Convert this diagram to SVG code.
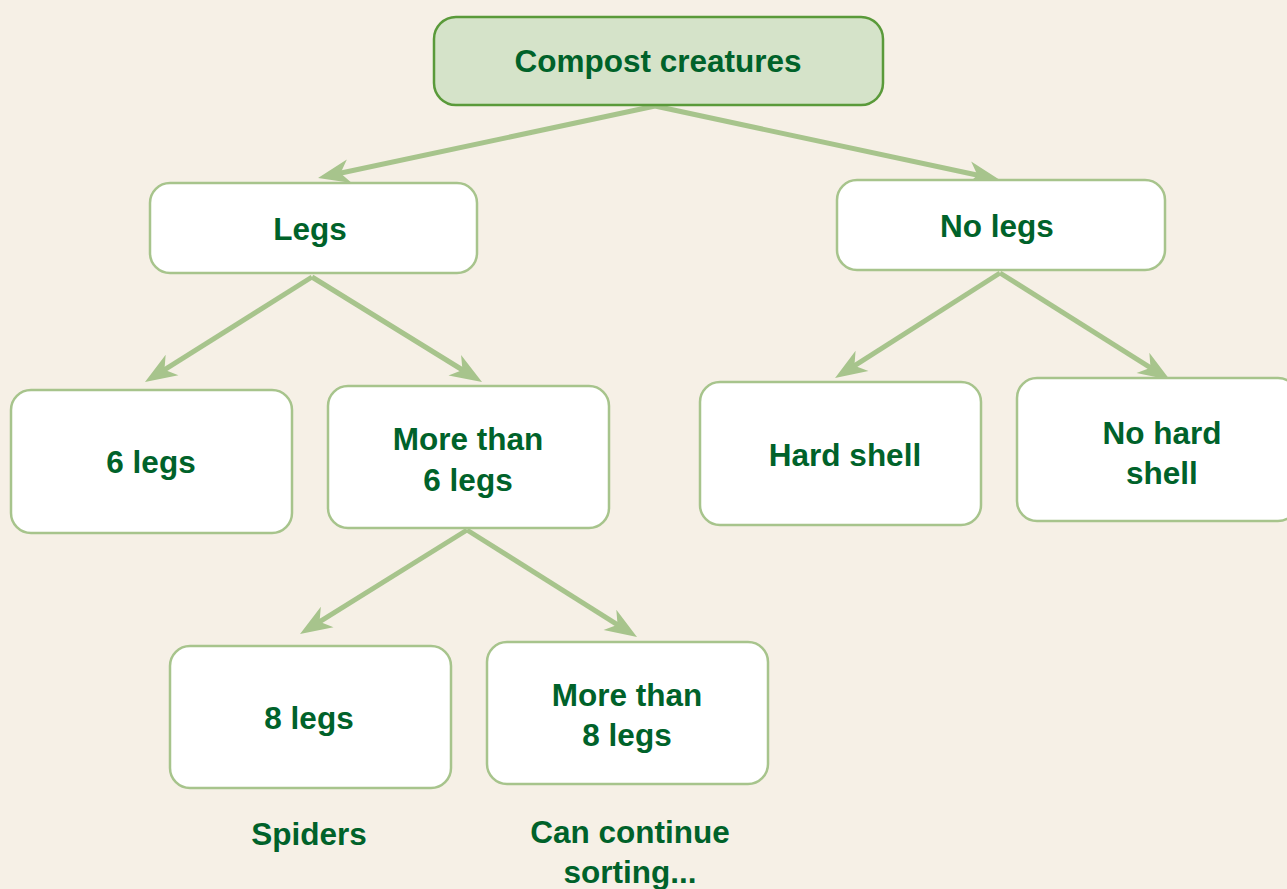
<svg xmlns="http://www.w3.org/2000/svg" width="1287" height="889" viewBox="0 0 1287 889">
  <defs>
    <!-- barbed arrowhead; tip sits 20px beyond the end of each line -->
    <marker id="arrow" markerUnits="userSpaceOnUse" markerWidth="40" markerHeight="30" viewBox="-34 -15 40 30" refX="-20" refY="0" orient="auto">
      <path d="M0,0 L-32,-12 L-23,0 L-32,12 Z" fill="#a7c48c"/>
    </marker>
  </defs>
  <style>
    .box { fill: #ffffff; stroke: #a7c48c; stroke-width: 2.5; }
    .root { fill: #d5e3c9; stroke: #5a9a3a; stroke-width: 2.5; }
    .lbl { font-family: "Liberation Sans", Arial, sans-serif; font-weight: bold; font-size: 31.5px; fill: #00622a; text-anchor: middle; }
    .edge { stroke: #a7c48c; stroke-width: 5; fill: none; marker-end: url(#arrow); }
  </style>
  <rect width="1287" height="889" fill="#f6f0e6"/>

  <g id="connectors">
    <line class="edge" x1="655" y1="106" x2="337.6" y2="173.8"/>
    <line class="edge" x1="655" y1="106" x2="980.4" y2="175.8"/>
    <line class="edge" x1="312" y1="277" x2="161.9" y2="371.4"/>
    <line class="edge" x1="312" y1="277" x2="465" y2="371.5"/>
    <line class="edge" x1="1000" y1="273" x2="851.9" y2="367.3"/>
    <line class="edge" x1="1000" y1="273" x2="1153.1" y2="369.3"/>
    <line class="edge" x1="467" y1="530" x2="317" y2="623.4"/>
    <line class="edge" x1="467" y1="530" x2="620.1" y2="626.3"/>
  </g>

  <g id="compost-creatures">
    <rect class="root" x="434" y="17" width="449" height="88" rx="22"/>
    <text class="lbl" x="658" y="72">Compost creatures</text>
  </g>

  <g id="legs">
    <rect class="box" x="150" y="183" width="327" height="90" rx="20"/>
    <text class="lbl" x="310" y="240">Legs</text>
  </g>

  <g id="no-legs">
    <rect class="box" x="837" y="180" width="328" height="90" rx="20"/>
    <text class="lbl" x="997" y="237">No legs</text>
  </g>

  <g id="six-legs">
    <rect class="box" x="11" y="390" width="281" height="143" rx="20"/>
    <text class="lbl" x="151" y="473">6 legs</text>
  </g>

  <g id="more-than-six-legs">
    <rect class="box" x="328" y="386" width="281" height="142" rx="20"/>
    <text class="lbl" x="468" y="450">More than</text>
    <text class="lbl" x="468" y="491">6 legs</text>
  </g>

  <g id="hard-shell">
    <rect class="box" x="700" y="382" width="281" height="143" rx="20"/>
    <text class="lbl" x="845" y="466">Hard shell</text>
  </g>

  <g id="no-hard-shell">
    <rect class="box" x="1017" y="378" width="281" height="143" rx="20"/>
    <text class="lbl" x="1162" y="444">No hard</text>
    <text class="lbl" x="1162" y="484">shell</text>
  </g>

  <g id="eight-legs">
    <rect class="box" x="170" y="646" width="281" height="142" rx="20"/>
    <text class="lbl" x="309" y="729">8 legs</text>
  </g>

  <g id="more-than-eight-legs">
    <rect class="box" x="487" y="642" width="281" height="142" rx="20"/>
    <text class="lbl" x="627" y="706">More than</text>
    <text class="lbl" x="627" y="746">8 legs</text>
  </g>

  <g id="spiders">
    <text class="lbl" x="309" y="845">Spiders</text>
  </g>

  <g id="can-continue-sorting">
    <text class="lbl" x="630" y="843">Can continue</text>
    <text class="lbl" x="630" y="883">sorting...</text>
  </g>
</svg>
